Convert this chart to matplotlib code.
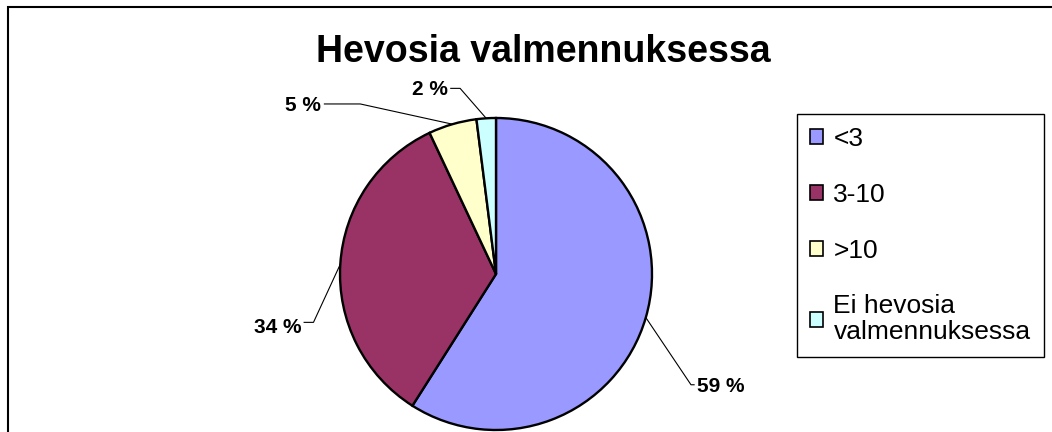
import matplotlib
matplotlib.use("Agg")
import matplotlib.pyplot as plt
from matplotlib.patches import Patch, Rectangle
import numpy as np

plt.rcParams['font.family'] = ['Liberation Sans', 'DejaVu Sans']

# data
categories = ['<3', '3-10', '>10', 'Ei hevosia\nvalmennuksessa']
shares = [59, 34, 5, 2]
pct_labels = ['59 %', '34 %', '5 %', '2 %']
colours = ['#9999FF', '#993366', '#FFFFCC', '#CCFFFF']

W, H = 1052, 432
fig = plt.figure(figsize=(W / 100, H / 100), dpi=100)

# outer frame (right and bottom edges fall outside the picture)
fig.patches.append(Rectangle((8 / W, -0.05), 1.1, 1 - 7 / H + 0.05,
                             transform=fig.transFigure, fill=False,
                             edgecolor='black', linewidth=1.5))

cx, cy, r = 496, 274, 156
ax = fig.add_axes([(cx - r) / W, (H - cy - r) / H, 2 * r / W, 2 * r / H])
wedges, _ = ax.pie(shares, colors=colours, startangle=90, counterclock=False,
                   radius=1, wedgeprops=dict(edgecolor='black', linewidth=1.7))
ax.set_xlim(-1, 1)
ax.set_ylim(-1, 1)
ax.set_aspect('equal')
ax.axis('off')

# label placement: (elbow, text anchor, alignment) in pie units
label_pos = [((1.25, -0.71), (1.29, -0.72), 'left'),
             ((-1.17, -0.31), (-1.25, -0.34), 'right'),
             ((-0.87, 1.09), (-1.12, 1.08), 'right'),
             ((-0.23, 1.19), (-0.31, 1.18), 'right')]

for w, lab, (elbow, txt, ha) in zip(wedges, pct_labels, label_pos):
    mid = np.deg2rad((w.theta1 + w.theta2) / 2)
    x0, y0 = np.cos(mid), np.sin(mid)
    end_x = txt[0] + (-0.02 if ha == 'left' else 0.02)
    ax.plot([x0, elbow[0], end_x], [y0, elbow[1], elbow[1]], color='black',
            linewidth=0.8, clip_on=False)
    ax.text(txt[0], txt[1], lab, ha=ha, va='center', fontsize=15,
            fontweight='bold', clip_on=False)

fig.text(543 / W, 1 - 52 / H, 'Hevosia valmennuksessa', ha='center', va='center',
         fontsize=27, fontweight='bold')

handles = [Patch(facecolor=c, edgecolor='black', linewidth=1.2) for c in colours]
leg = fig.legend(handles, categories, loc='upper left',
                 bbox_to_anchor=(797 / W, 1 - 114 / H), fontsize=19,
                 frameon=True, fancybox=False, framealpha=1, edgecolor='black',
                 handlelength=0.5, handleheight=0.5, handletextpad=0.38,
                 labelspacing=1.2, borderpad=0.5, borderaxespad=0)
leg.get_frame().set_linewidth(1.0)
for t in leg.get_texts():
    t.set_linespacing(1.1)

fig.savefig('out.png', dpi=100)
